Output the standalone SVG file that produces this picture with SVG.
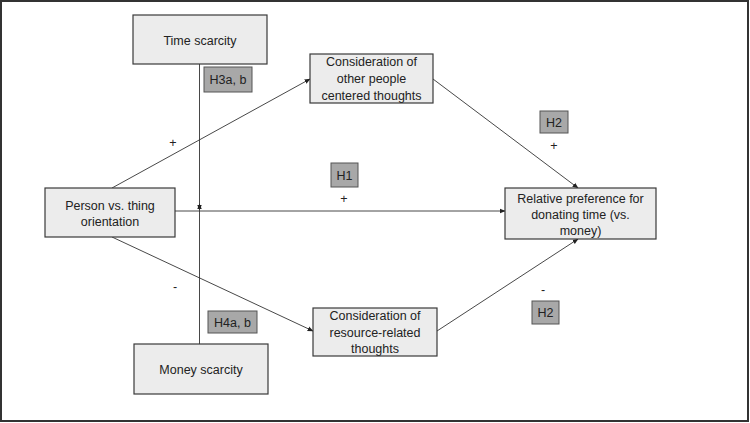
<svg xmlns="http://www.w3.org/2000/svg" width="750" height="423" viewBox="0 0 750 423">
<style>
.box{fill:#ececec;stroke:#3a3a3a;stroke-width:1.2}
.hb{fill:#a8a8a8;stroke:#555;stroke-width:1}
.t{font-family:"Liberation Sans",Arial,sans-serif;font-size:12.5px;fill:#222;text-anchor:middle}
.c{stroke:#333;stroke-width:0.9;fill:none;marker-end:url(#ah)}
</style>
<defs>
<marker id="ah" viewBox="0 0 10 10" refX="9" refY="5" markerWidth="6" markerHeight="6" orient="auto" markerUnits="userSpaceOnUse">
<path d="M0,1 L10,5 L0,9 z" fill="#222"/>
</marker>
</defs>
<rect x="1" y="1" width="747" height="420" fill="#fff" stroke="#333" stroke-width="2"/>
<g id="connectors">
<line class="c" x1="199.5" y1="64" x2="199.5" y2="210"/>
<line class="c" x1="199.5" y1="344" x2="199.5" y2="204"/>
<line class="c" x1="112" y1="188" x2="310" y2="79"/>
<line class="c" x1="112" y1="237" x2="313" y2="331"/>
<line class="c" x1="175" y1="211" x2="505" y2="211"/>
<line class="c" x1="433" y1="79" x2="578" y2="188"/>
<line class="c" x1="437" y1="331" x2="578" y2="239"/>
</g>
<g id="time">
<rect class="box" x="133" y="15" width="134" height="49"/>
<text class="t" x="200" y="45">Time scarcity</text>
</g>
<g id="money">
<rect class="box" x="134" y="344" width="134" height="50"/>
<text class="t" x="201" y="374">Money scarcity</text>
</g>
<g id="person">
<rect class="box" x="45" y="188" width="130" height="49"/>
<text class="t" x="110" y="210">Person vs. thing</text>
<text class="t" x="110" y="226">orientation</text>
</g>
<g id="other">
<rect class="box" x="310" y="54" width="123" height="49"/>
<text class="t" x="371.5" y="66">Consideration of</text>
<text class="t" x="371.5" y="83">other people</text>
<text class="t" x="371.5" y="100">centered thoughts</text>
</g>
<g id="resource">
<rect class="box" x="313" y="308" width="124" height="48"/>
<text class="t" x="375" y="320">Consideration of</text>
<text class="t" x="375" y="337">resource-related</text>
<text class="t" x="375" y="353">thoughts</text>
</g>
<g id="relative">
<rect class="box" x="505" y="188" width="151" height="51"/>
<text class="t" x="580.5" y="203">Relative preference for</text>
<text class="t" x="580.5" y="219">donating time (vs.</text>
<text class="t" x="580.5" y="235">money)</text>
</g>
<g id="h3">
<rect class="hb" x="204" y="67" width="48" height="25"/>
<text class="t" x="228" y="84">H3a, b</text>
</g>
<g id="h4">
<rect class="hb" x="208" y="311" width="49" height="22"/>
<text class="t" x="232.5" y="327">H4a, b</text>
</g>
<g id="h1">
<rect class="hb" x="331" y="163" width="27" height="24"/>
<text class="t" x="344.5" y="180">H1</text>
</g>
<g id="h2a">
<rect class="hb" x="540" y="111" width="28" height="22"/>
<text class="t" x="554" y="127">H2</text>
</g>
<g id="h2b">
<rect class="hb" x="532" y="301" width="27" height="23"/>
<text class="t" x="545.5" y="317">H2</text>
</g>
<g id="signs">
<text class="t" x="173" y="147">+</text>
<text class="t" x="344" y="203">+</text>
<text class="t" x="554" y="150">+</text>
<text class="t" x="175" y="291">-</text>
<text class="t" x="543" y="294">-</text>
</g>
</svg>
